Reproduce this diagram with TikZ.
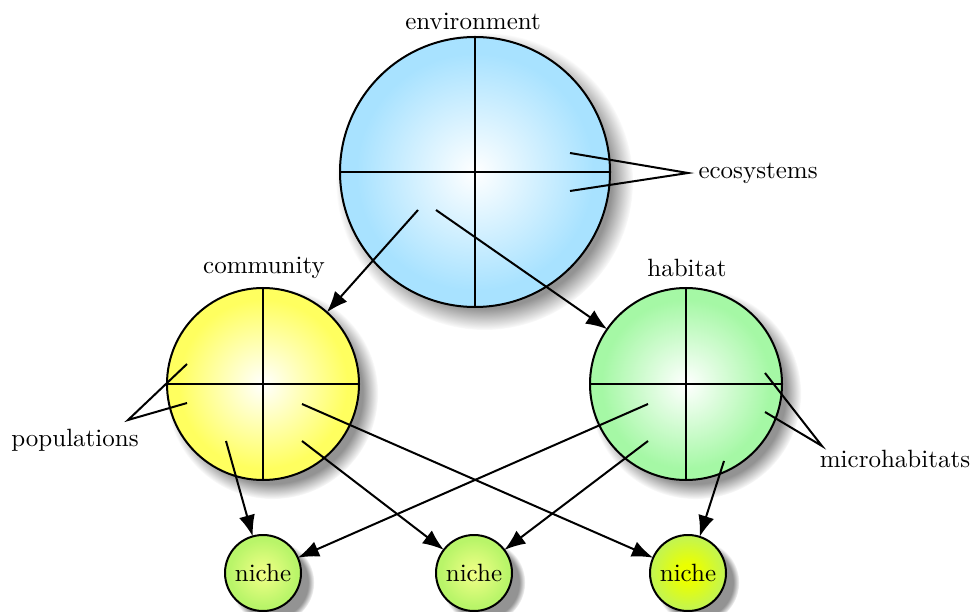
\documentclass[tikz,border=0pt]{standalone}
\usetikzlibrary{arrows.meta,shadows,fadings}
\definecolor{envout}{RGB}{168,226,255}
\definecolor{comout}{RGB}{255,255,95}
\definecolor{habout}{RGB}{165,248,165}
\definecolor{nicheout}{RGB}{185,245,105}
\definecolor{nichein}{RGB}{242,255,135}
\definecolor{nicheoutb}{RGB}{195,245,80}
\definecolor{nicheinb}{RGB}{235,255,0}
\pgfdeclareradialshading{envshade}{\pgfpoint{0bp}{0bp}}{color(0bp)=(white);color(22bp)=(envout);color(50bp)=(envout)}
\pgfdeclareradialshading{comshade}{\pgfpoint{0bp}{0bp}}{color(0bp)=(white);color(22bp)=(comout);color(50bp)=(comout)}
\pgfdeclareradialshading{habshade}{\pgfpoint{0bp}{0bp}}{color(0bp)=(white);color(22bp)=(habout);color(50bp)=(habout)}
\pgfdeclareradialshading{nicheshade}{\pgfpoint{0bp}{0bp}}{color(0bp)=(nichein);color(22bp)=(nicheout);color(50bp)=(nicheout)}
\pgfdeclareradialshading{nicheshadeb}{\pgfpoint{0bp}{0bp}}{color(0bp)=(nicheinb);color(6bp)=(nicheinb);color(24bp)=(nicheoutb);color(50bp)=(nicheoutb)}
\tikzset{
  ball/.style={circle,draw,line width=0.8pt,inner sep=0pt,outer sep=0pt,
    circular drop shadow={shadow xshift=0.8ex,shadow yshift=-0.8ex,opacity=0.85}},
  bigball/.style={ball,minimum size=108pt},
  midball/.style={ball,minimum size=76.8pt},
  smallball/.style={ball,minimum size=30.4pt},
  cross/.style={line width=0.8pt},
  pointer/.style={line width=0.8pt},
  arr/.style={line width=0.8pt,-{Latex[length=8.5pt,width=6.5pt]}},
  lbl/.style={inner sep=0pt,font=\normalsize}
}
\begin{document}
\begin{tikzpicture}[x=0.4pt,y=-0.4pt]
\useasboundingbox (0,0) rectangle (972,612);
% circles
\node[bigball,shading=envshade] (env) at (475,172) {};
\node[midball,shading=comshade] (com) at (263,384) {};
\node[midball,shading=habshade] (hab) at (686,384) {};
\node[smallball,shading=nicheshade] (n1) at (263,573) {niche};
\node[smallball,shading=nicheshade] (n2) at (474,573) {niche};
\node[smallball,shading=nicheshadeb] (n3) at (688,573) {niche};
% crosses
\foreach \c in {env,com,hab}{
  \draw[cross] (\c.west) -- (\c.east);
  \draw[cross] (\c.north) -- (\c.south);
}
% labels
\node[lbl] (envl) at (473,21) {environment};
\node[lbl] (coml) at (264,268) {community};
\node[lbl] (habl) at (687,268) {habitat};
\node[lbl,anchor=west] (ecol) at (698,173) {ecosystems};
\node[lbl] (popl) at (75,440) {populations};
\node[lbl] (micl) at (895,459) {microhabitats};
% pointer coordinates
\coordinate (ecotip) at (688,173);
\coordinate (e1) at (570,153);
\coordinate (e2) at (570,191);
\coordinate (poptip) at (128,420);
\coordinate (p1) at (187,364);
\coordinate (p2) at (187,403);
\coordinate (mictip) at (822,446);
\coordinate (m1) at (765,373);
\coordinate (m2) at (765,412);
\draw[pointer] (e1) -- (ecotip) -- (e2);
\draw[pointer] (p1) -- (poptip) -- (p2);
\draw[pointer] (m1) -- (mictip) -- (m2);
% arrow starts
\coordinate (ea) at (418,210);
\coordinate (eb) at (436,210);
\coordinate (ca) at (226,441);
\coordinate (cb) at (302,441);
\coordinate (cc) at (302,404);
\coordinate (ha) at (648,404);
\coordinate (hb) at (648,441);
\coordinate (hc) at (724,461);
\draw[arr] (ea) -- (com);
\draw[arr] (eb) -- (hab);
\draw[arr] (ca) -- (n1);
\draw[arr] (cb) -- (n2);
\draw[arr] (cc) -- (n3);
\draw[arr] (ha) -- (n1);
\draw[arr] (hb) -- (n2);
\draw[arr] (hc) -- (n3);
\end{tikzpicture}
\end{document}
